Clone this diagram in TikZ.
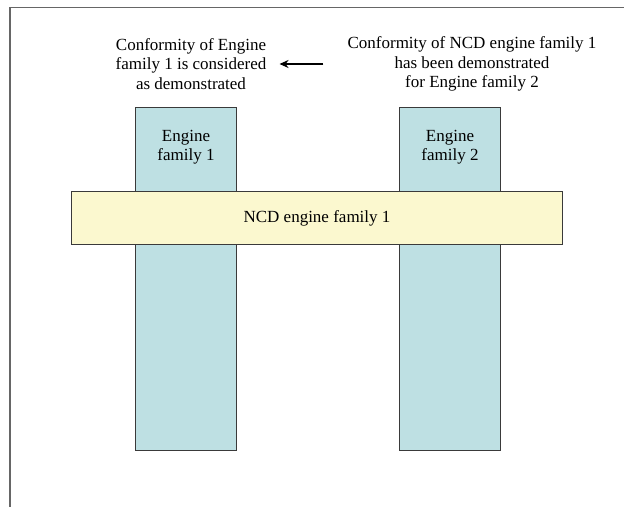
\documentclass[tikz,border=0pt]{standalone}
\usepackage{fontspec}
\setmainfont{Liberation Serif}
\usepackage{xcolor}
\usepackage{tikz}
\usetikzlibrary{positioning,arrows.meta}
\definecolor{famblue}{HTML}{BEE0E3}
\definecolor{ncdyellow}{HTML}{FBF8CF}
\definecolor{edgegray}{HTML}{3A3A3A}
\tikzstyle{scheme}=[
  >={Stealth[length=9bp,width=8bp]},x=1bp,y=-1bp,font=\fontsize{17bp}{19.5bp}\selectfont
]
\tikzstyle{famcol}=[
  draw=edgegray,line width=1.4bp,fill=famblue,minimum width=101bp,minimum height=343.5bp,inner sep=0pt
]
\tikzstyle{ncdbar}=[
  draw=edgegray,line width=1.4bp,fill=ncdyellow,minimum width=491bp,minimum height=52.5bp,inner sep=0pt
]
\tikzstyle{note}=[
  align=center,inner sep=0pt
]
\tikzstyle{frameline}=[
  draw=gray!80!black,line width=1.3bp
]

\begin{document}
\begin{tikzpicture}[scheme]
    \useasboundingbox [fill=white] (0,0) rectangle (624,507);
    \draw [frameline] (624,7.5) -- (10,7.5) -- (10,507);
      \node (fam1) at (186,279) [famcol] {};
      \node (fam2) at (450,279) [famcol] {};
      \node (ncd) at (317,218) [ncdbar] {NCD engine family 1};
      \node (lab1) at (186,147) [note] {Engine\\family 1};
      \node (lab2) at (450,147) [note] {Engine\\family 2};
      \node (conf1) at (191,64) [note] {Conformity of Engine\\family 1 is considered\\as demonstrated};
      \node (conf2) at (472,64) [note] {Conformity of NCD engine family 1\\has been demonstrated\\for Engine family 2};
      \draw [->,line width=1.6bp,shorten <=24bp,shorten >=13bp] (conf2) -- (conf1);
    \end{tikzpicture}
\end{document}
